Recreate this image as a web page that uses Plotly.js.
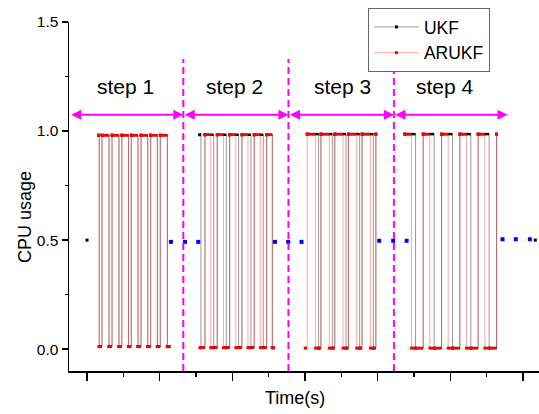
<!DOCTYPE html>
<html>
<head>
<meta charset="utf-8">
<script src="https://cdn.plot.ly/plotly-3.0.1.min.js"></script>
<style>
  html, body { margin: 0; padding: 0; background: #ffffff; }
  #chart { width: 539px; height: 414px; }
</style>
</head>
<body>
<div id="chart"></div>
<script>
// Step annotations
const stepNames = ['step 1', 'step 2', 'step 3', 'step 4'];
const stepLabelTimes = [15.36, 30.36, 45.14, 59.24];
const stepEdges = [7.62, 23.25, 37.72, 52.23, 67.87];
const boundaryTimes = [23.25, 37.72, 52.23];
const arrowLevel = 1.075;
const labelLevel = 1.205;

// Axis ticks
const xMajorTicks = [10, 20, 30, 40, 50, 60, 70];
const xMinorTicks = [15, 25, 35, 45, 55, 65];
const yMajorTicks = [0, 0.5, 1.0, 1.5];
const yMinorTicks = [0.25, 0.75, 1.25];

// UKF: CPU usage over time (null separates the runs)
const ukfTime = [
  10.00, null,
  11.58, 11.68, 12.06, 13.03, 13.44, 14.40, 14.79, 15.70, 16.09, 17.02, 17.43, 18.36, 18.76, 19.68, 20.08, 21.06, 21.28, null,
  25.50, 25.68, 26.23, 27.43, 27.92, 29.17, 29.63, 30.87, 31.32, 32.56, 33.01, 34.26, 34.72, 35.50, 35.65, null,
  40.30, 41.87, 42.19, 43.76, 44.09, 45.64, 45.97, 47.52, 47.85, 49.41, 49.75, null,
  53.74, 55.21, 56.26, 57.77, 58.79, 60.29, 61.31, 62.82, 63.82, 65.34, 66.36, null,
  71.69
];
const ukfUsage = [
  0.500, null,
  0.981, 0.012, 0.981, 0.012, 0.981, 0.012, 0.981, 0.012, 0.981, 0.012, 0.981, 0.012, 0.981, 0.012, 0.981, 0.012, 0.012, null,
  0.983, 0.007, 0.983, 0.007, 0.983, 0.007, 0.983, 0.007, 0.983, 0.007, 0.983, 0.007, 0.983, 0.007, 0.007, null,
  0.986, 0.005, 0.986, 0.005, 0.986, 0.005, 0.986, 0.005, 0.986, 0.005, 0.986, null,
  0.986, 0.005, 0.986, 0.005, 0.986, 0.005, 0.986, 0.005, 0.986, 0.005, 0.986, null,
  0.500
];

// ARUKF: CPU usage over time
const arukfTime = [
  11.58, 11.68, 12.06, 13.03, 13.44, 14.40, 14.79, 15.70, 16.09, 17.02, 17.43, 18.36, 18.76, 19.68, 20.08, 21.06, 21.28, null,
  25.54, 26.23, 27.02, 27.92, 28.78, 29.63, 30.47, 31.32, 32.15, 33.01, 33.85, 34.72, 35.50, 35.65, null,
  40.03, 40.30, 41.46, 42.19, 43.34, 44.09, 45.23, 45.97, 47.11, 47.85, 49.00, 49.75, null,
  53.74, 54.66, 56.26, 57.18, 58.79, 59.70, 61.31, 62.23, 63.82, 64.75, 66.36
];
const arukfUsage = [
  0.981, 0.012, 0.981, 0.012, 0.981, 0.012, 0.981, 0.012, 0.981, 0.012, 0.981, 0.012, 0.981, 0.012, 0.981, 0.012, 0.012, null,
  0.007, 0.983, 0.007, 0.983, 0.007, 0.983, 0.007, 0.983, 0.007, 0.983, 0.007, 0.983, 0.007, 0.007, null,
  0.005, 0.986, 0.005, 0.986, 0.005, 0.986, 0.005, 0.986, 0.005, 0.986, 0.005, 0.986, null,
  0.986, 0.005, 0.986, 0.005, 0.986, 0.005, 0.986, 0.005, 0.986, 0.005, 0.986
];

// Idle samples between the steps
const idleTime = [21.55, 23.48, 25.31, 35.86, 37.69, 39.52, 50.21, 52.13, 53.98, 67.18, 69.01, 70.94];
const idleUsage = [0.492, 0.492, 0.492, 0.492, 0.492, 0.492, 0.497, 0.497, 0.497, 0.504, 0.504, 0.504];

// Held levels of a step signal, as separate horizontal pieces
function heldLevels(t, u) {
  const xs = [], ys = [];
  for (let i = 0; i < t.length - 1; i++) {
    if (t[i] == null || t[i + 1] == null || u[i] == null || u[i + 1] == null) continue;
    xs.push(t[i], t[i + 1], null);
    ys.push(u[i], u[i], null);
  }
  return { xs, ys };
}

const ukfHeld = heldLevels(ukfTime, ukfUsage);
const arukfHeld = heldLevels(arukfTime, arukfUsage);

const FONT = 'Liberation Sans, Arial, Helvetica, sans-serif';
const MAGENTA = '#ff00ff';

const traces = [
  {
    x: ukfTime, y: ukfUsage, name: 'UKF', type: 'scatter', mode: 'lines+markers',
    line: { shape: 'hv', color: '#9a9a9a', width: 1 },
    marker: { color: '#000000', size: 3, symbol: 'square' },
    connectgaps: false, hoverinfo: 'skip'
  },
  {
    x: ukfHeld.xs, y: ukfHeld.ys, type: 'scatter', mode: 'lines', showlegend: false,
    line: { color: '#000000', width: 2.5 }, hoverinfo: 'skip'
  },
  {
    x: arukfTime, y: arukfUsage, name: 'ARUKF', type: 'scatter', mode: 'lines+markers',
    line: { shape: 'hv', color: 'rgba(255,0,0,0.35)', width: 1 },
    marker: { color: '#ff0000', size: 3, symbol: 'square' },
    connectgaps: false, hoverinfo: 'skip'
  },
  {
    x: arukfHeld.xs, y: arukfHeld.ys, type: 'scatter', mode: 'lines', showlegend: false,
    line: { color: '#ff0000', width: 2.5 }, hoverinfo: 'skip'
  },
  {
    x: idleTime, y: idleUsage, type: 'scatter', mode: 'markers', showlegend: false,
    marker: { color: '#0000ff', size: 4, symbol: 'square' }, hoverinfo: 'skip'
  }
];

const shapes = boundaryTimes.map(t => ({
  type: 'line', xref: 'x', yref: 'y', x0: t, x1: t, y0: -0.1, y1: 1.33,
  line: { color: MAGENTA, width: 2, dash: '7px,4px' }
}));

const annotations = [];
for (let i = 0; i < stepNames.length; i++) {
  annotations.push({
    x: stepEdges[i + 1], y: arrowLevel, ax: stepEdges[i], ay: arrowLevel,
    xref: 'x', yref: 'y', axref: 'x', ayref: 'y',
    text: '', showarrow: true, arrowside: 'end+start',
    arrowhead: 2, startarrowhead: 2, arrowsize: 1, startarrowsize: 1,
    arrowwidth: 2, arrowcolor: MAGENTA, standoff: 0, startstandoff: 0
  });
  annotations.push({
    x: stepLabelTimes[i], y: labelLevel, xref: 'x', yref: 'y',
    text: stepNames[i], showarrow: false,
    font: { family: FONT, size: 21, color: '#000000' }
  });
}
annotations.push({
  xref: 'paper', yref: 'paper', x: -0.0936, y: 0.441, textangle: -90,
  text: 'CPU usage', showarrow: false, xanchor: 'center', yanchor: 'middle',
  font: { family: FONT, size: 18, color: '#000000' }
});
annotations.push({
  xref: 'paper', yref: 'paper', x: 0.481, y: -0.077,
  text: 'Time(s)', showarrow: false, xanchor: 'center', yanchor: 'middle',
  font: { family: FONT, size: 18, color: '#000000' }
});

const layout = {
  width: 539, height: 414,
  margin: { l: 69, r: 0, t: 21.6, b: 43 },
  paper_bgcolor: '#ffffff', plot_bgcolor: '#ffffff',
  font: { family: FONT, color: '#000000' },
  showlegend: true,
  legend: {
    x: 0.636, y: 1.04, xanchor: 'left', yanchor: 'top',
    bgcolor: '#ffffff', bordercolor: '#666666', borderwidth: 1,
    font: { family: FONT, size: 17.5, color: '#000000' },
    itemwidth: 45, tracegroupgap: 0
  },
  xaxis: {
    range: [7.52, 72.2], showgrid: false, zeroline: false,
    showline: true, linecolor: '#000000', linewidth: 1.5,
    ticks: 'outside', tickvals: xMajorTicks, ticklen: 8, tickwidth: 1.5, tickcolor: '#000000',
    showticklabels: false,
    minor: { tickvals: xMinorTicks, ticks: 'outside', ticklen: 4, tickwidth: 1.5, tickcolor: '#000000' }
  },
  yaxis: {
    range: [-0.1, 1.5], showgrid: false, zeroline: false,
    showline: true, linecolor: '#000000', linewidth: 1.5,
    ticks: 'outside', tickvals: yMajorTicks, tickformat: '.1f',
    ticklen: 6, tickwidth: 1.5, tickcolor: '#000000',
    tickfont: { family: FONT, size: 15.5, color: '#000000' },
    minor: { tickvals: yMinorTicks, ticks: 'outside', ticklen: 3, tickwidth: 1.5, tickcolor: '#000000' }
  },
  shapes: shapes,
  annotations: annotations
};

Plotly.newPlot('chart', traces, layout, { displayModeBar: false, staticPlot: true });
</script>
</body>
</html>
